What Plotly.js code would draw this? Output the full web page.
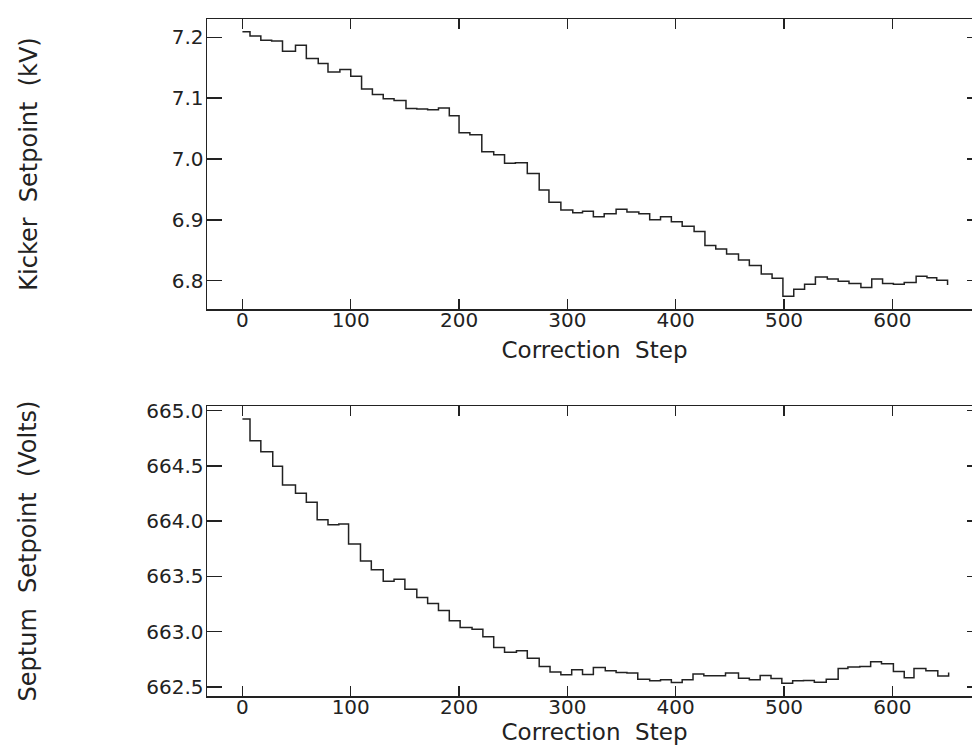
<!DOCTYPE html>
<html>
<head>
<meta charset="utf-8">
<script src="https://cdn.plot.ly/plotly-3.0.1.min.js"></script>
<style>
html, body { margin: 0; padding: 0; overflow: hidden; background: #fff; }
#chart { width: 990px; height: 751px; }
</style>
</head>
<body>
<div id="chart"></div>
<script>
// Kicker setpoint (kV): step start positions and values
const kickerSteps = [0, 7, 17, 27, 37, 49, 59, 70, 79, 90, 100, 110, 120, 130, 140, 151, 161, 171, 181, 191,
  200, 210, 221, 232, 242, 252, 263, 274, 283, 294, 305, 314, 324, 334, 345, 355, 366, 376, 386, 396,
  406, 417, 427, 437, 447, 458, 468, 479, 489, 499, 509, 519, 529, 540, 550, 560, 571, 581, 591, 601,
  611, 622, 632, 641, 651];
const kickerValues = [7.209, 7.202, 7.195, 7.194, 7.177, 7.187, 7.165, 7.157, 7.143, 7.147, 7.136, 7.115, 7.106, 7.099, 7.096, 7.083, 7.082, 7.081, 7.084, 7.071,
  7.043, 7.040, 7.012, 7.007, 6.993, 6.994, 6.976, 6.949, 6.929, 6.916, 6.9115, 6.914, 6.905, 6.910, 6.9176, 6.913, 6.910, 6.900, 6.905, 6.897,
  6.8896, 6.881, 6.858, 6.852, 6.844, 6.834, 6.825, 6.811, 6.804, 6.7745, 6.786, 6.794, 6.806, 6.803, 6.799, 6.7955, 6.789, 6.803, 6.7955, 6.794,
  6.797, 6.8074, 6.805, 6.8008, 6.793];

// Septum setpoint (Volts)
const septumSteps = [0, 7, 17, 28, 37, 49, 59, 69, 79, 89, 98, 109, 119, 130, 140, 150, 161, 171, 181, 191,
  201, 212, 222, 232, 242, 253, 263, 274, 284, 294, 304, 314, 324, 335, 345, 355, 365, 376, 386, 396,
  406, 416, 426, 446, 458, 468, 478, 488, 498, 508, 518, 528, 539, 550, 559, 570, 580, 590, 601, 611,
  620, 631, 642, 652];
const septumValues = [664.925, 664.729, 664.629, 664.497, 664.328, 664.253, 664.172, 664.014, 663.969, 663.975, 663.795, 663.641, 663.560, 663.457, 663.475, 663.385, 663.309, 663.255, 663.192, 663.100,
  663.038, 663.023, 662.954, 662.857, 662.815, 662.827, 662.761, 662.685, 662.635, 662.610, 662.655, 662.613, 662.676, 662.647, 662.631, 662.626, 662.571, 662.556, 662.565, 662.541,
  662.565, 662.617, 662.601, 662.626, 662.580, 662.565, 662.604, 662.577, 662.535, 662.556, 662.558, 662.544, 662.571, 662.667, 662.680, 662.686, 662.728, 662.710, 662.640, 662.583,
  662.667, 662.647, 662.599, 662.631];

const xTickVals = [0, 100, 200, 300, 400, 500, 600];
const kickerTicks = [6.8, 6.9, 7.0, 7.1, 7.2];
const septumTicks = [662.5, 663.0, 663.5, 664.0, 664.5, 665.0];

const FONT = "DejaVu Sans";
const INK = "#222";
const NB = "\u00a0";

const traces = [
  { x: kickerSteps, y: kickerValues, type: "scatter", mode: "lines", line: { shape: "hv", color: INK, width: 1.5 }, xaxis: "x", yaxis: "y", hoverinfo: "x+y" },
  { x: septumSteps, y: septumValues, type: "scatter", mode: "lines", line: { shape: "hv", color: INK, width: 1.5 }, xaxis: "x2", yaxis: "y2", hoverinfo: "x+y" }
];

function xAxis(anchor, standoff) {
  return {
    domain: [0, 1], anchor: anchor, range: [-32.7, 682.8],
    tickvals: xTickVals, ticks: "inside", ticklen: 10, tickwidth: 1.5, tickcolor: INK,
    showline: true, linecolor: INK, linewidth: 1.5, mirror: "ticks",
    showgrid: false, zeroline: false, ticklabelstandoff: -8,
    tickfont: { family: FONT, size: 20, color: INK },
    title: { text: "Correction" + NB + NB + "Step", font: { family: FONT, size: 23, color: INK }, standoff: standoff }
  };
}
function yAxis(domain, anchor, range, tickvals, title, standoff) {
  return {
    domain: domain, anchor: anchor, range: range,
    tickvals: tickvals, tickformat: ".1f", ticks: "inside", ticklen: 15, tickwidth: 1.5, tickcolor: INK,
    showline: true, linecolor: INK, linewidth: 1.5, mirror: "ticks",
    showgrid: false, zeroline: false, ticklabelstandoff: -2,
    tickfont: { family: FONT, size: 20, color: INK },
    title: { text: title, font: { family: FONT, size: 24, color: INK }, standoff: standoff }
  };
}

const layout = {
  width: 990, height: 751,
  margin: { l: 207, r: 8, t: 0, b: 0 },
  paper_bgcolor: "#fff", plot_bgcolor: "#fff",
  showlegend: false,
  xaxis: xAxis("y", 11),
  yaxis: yAxis([1 - 309 / 751, 1 - 19 / 751], "x", [6.7535, 7.2301], kickerTicks,
    "Kicker" + NB + NB + "Setpoint" + NB + NB + "(kV)", 127),
  xaxis2: xAxis("y2", 6),
  yaxis2: yAxis([1 - 696 / 751, 1 - 406 / 751], "x2", [662.4186, 665.0425], septumTicks,
    "Septum" + NB + NB + "Setpoint" + NB + NB + "(Volts)", 103)
};

Plotly.newPlot("chart", traces, layout, { staticPlot: true, displayModeBar: false });
</script>
</body>
</html>
